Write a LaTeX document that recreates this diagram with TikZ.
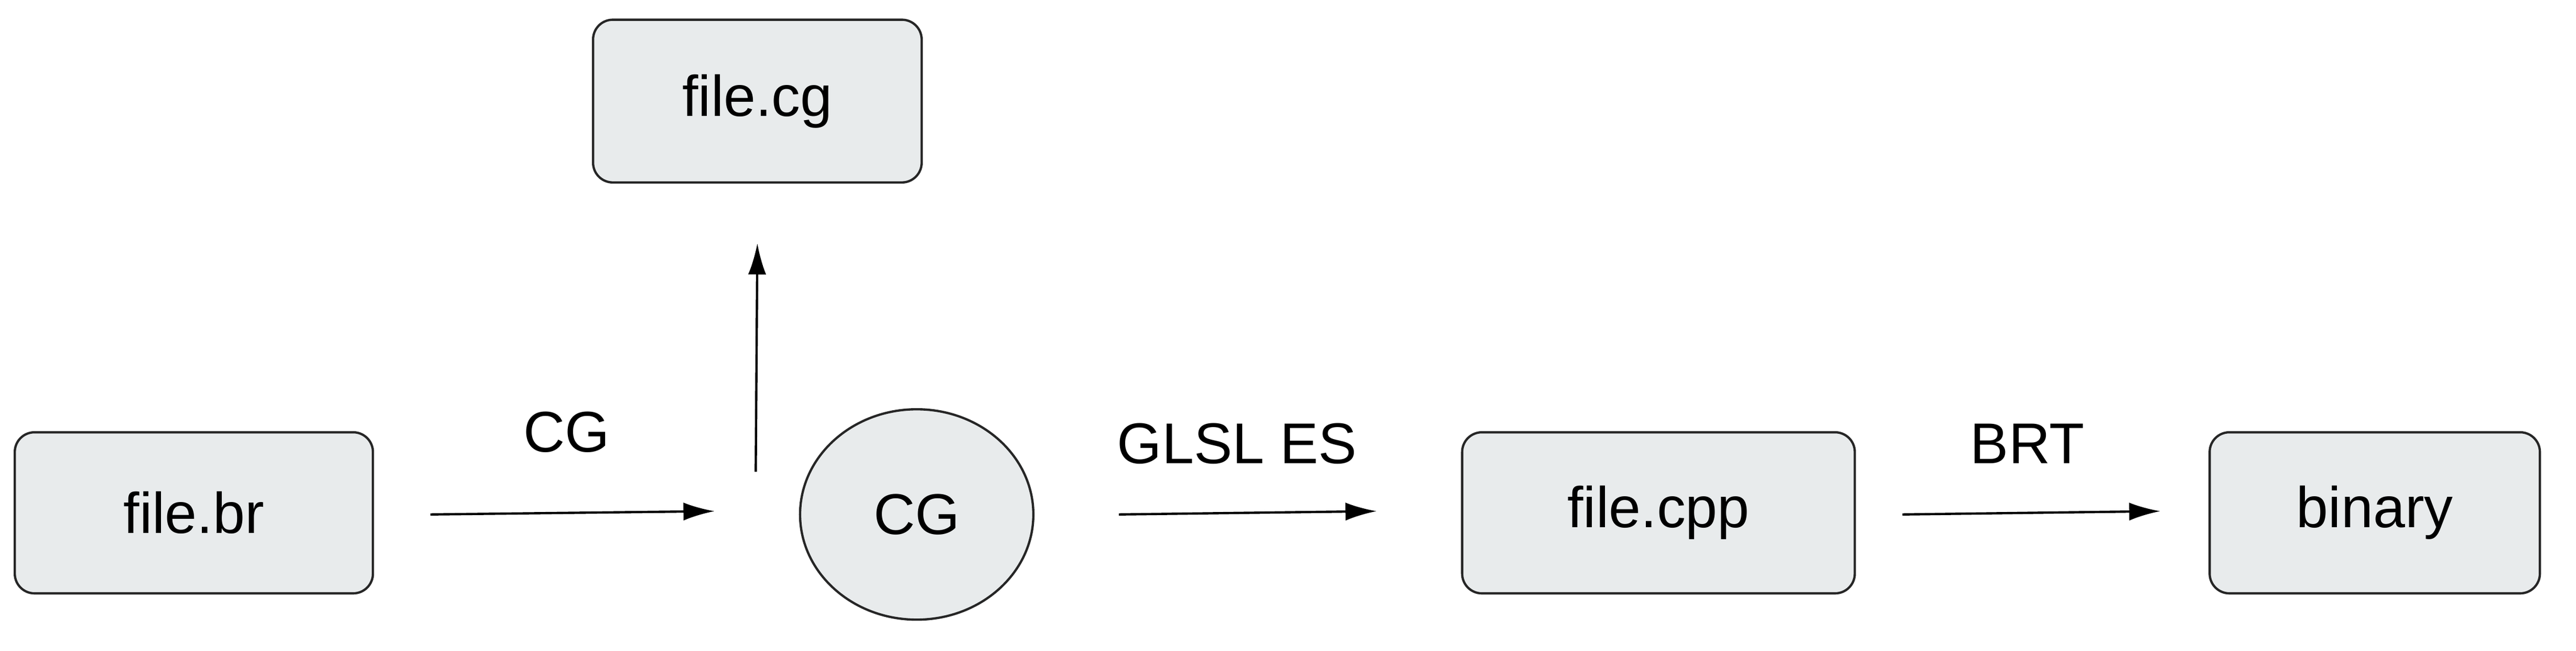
\documentclass[tikz,border=0pt]{standalone}
\usepackage{fontspec}
\setmainfont{Liberation Sans}
\usetikzlibrary{arrows.meta,shapes.geometric}
\definecolor{boxfill}{HTML}{E8EBEC}
\begin{document}
\begin{tikzpicture}[x=1pt,y=-1pt,
  box/.style={draw=black!85,line width=1.4pt,fill=boxfill,rounded corners=12pt,inner sep=0pt},
  lbl/.style={font=\fontsize{35}{40}\selectfont},
  arr/.style={line width=1.4pt,-{Latex[length=19pt,width=11pt]}}]
\useasboundingbox (0,0) rectangle (1568,396);
\node[box,minimum width=218pt,minimum height=98pt,lbl] (br) at (118,312) {file.br};
\node[box,minimum width=200pt,minimum height=99pt,lbl] (cg) at (461,61.5) {file.cg};
\node[draw=black!85,line width=1.4pt,fill=boxfill,ellipse,minimum width=142pt,minimum height=128pt,inner sep=0pt,lbl] (cgc) at (558,313) {CG};
\node[box,minimum width=239pt,minimum height=98pt,lbl] (cpp) at (1009.5,312) {file.cpp};
\node[box,minimum width=201pt,minimum height=98pt,lbl] (bin) at (1445.5,312) {binary};
\coordinate (a1) at (262,313); \coordinate (a2) at (435,311);
\coordinate (b1) at (460,287); \coordinate (b2) at (461,148);
\coordinate (c1) at (681,313); \coordinate (c2) at (838,311);
\coordinate (d1) at (1158,313); \coordinate (d2) at (1315,311);
\draw[arr] (a1) -- (a2);
\draw[arr] (b1) -- (b2);
\draw[arr] (c1) -- (c2);
\draw[arr] (d1) -- (d2);
\node[lbl] (l1) at (345,263) {CG};
\node[lbl] (l2) at (753,270) {GLSL ES};
\node[lbl] (l3) at (1234,270) {BRT};
\end{tikzpicture}
\end{document}
